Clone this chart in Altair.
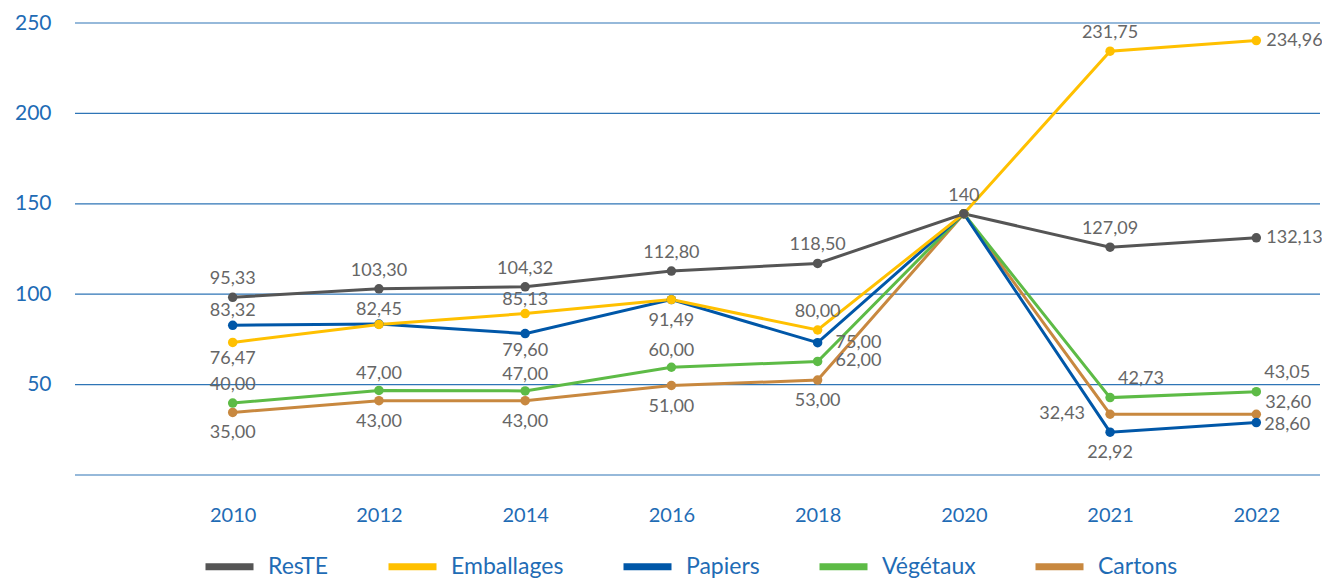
import altair as alt
import pandas as pd

# ---- data -------------------------------------------------------------
years = ["2010", "2012", "2014", "2016", "2018", "2020", "2021", "2022"]
series = ["ResTE", "Emballages", "Papiers", "Végétaux", "Cartons"]
colors = ["#555555", "#FFC000", "#0057A8", "#5DBB46", "#C8883F"]
y_ticks = [0, 50, 100, 150, 200, 250]

reste = [98.3, 103.0, 104.1, 112.8, 117.0, 144.5, 126.0, 131.2]
emballages = [73.3, 83.3, 89.3, 97.0, 80.2, 144.5, 234.4, 240.3]
papiers = [82.8, 83.5, 78.2, 97.0, 73.2, 144.5, 23.7, 29.0]
vegetaux = [39.8, 46.8, 46.5, 59.6, 62.8, 144.5, 42.8, 46.1]
cartons = [34.6, 41.1, 41.1, 49.5, 52.5, 144.5, 33.6, 33.6]

reste_lbl = ["95,33", "103,30", "104,32", "112,80", "118,50", "140", "127,09", "132,13"]
emballages_lbl = ["76,47", "82,45", "85,13", "", "80,00", "", "231,75", "234,96"]
papiers_lbl = ["83,32", "", "79,60", "91,49", "75,00", "", "22,92", "28,60"]
vegetaux_lbl = ["40,00", "47,00", "47,00", "60,00", "62,00", "", "42,73", "43,05"]
cartons_lbl = ["35,00", "43,00", "43,00", "51,00", "53,00", "", "32,43", "32,60"]

# label placement (style): a=above, b=below, r=right, l=left, ar=above-right
reste_pos = ["a", "a", "a", "a", "a", "a", "a", "r"]
emballages_pos = ["b2", "a2", "a2", "a", "a", "a", "a", "r"]
papiers_pos = ["a2", "a", "b2", "b", "r3", "a", "b", "r2"]
vegetaux_pos = ["a", "a3", "a3", "a3", "r3", "a", "ar", "ar"]
cartons_pos = ["b", "b", "b", "b", "b", "a", "l", "ar2"]

values = {"ResTE": reste, "Emballages": emballages, "Papiers": papiers,
          "Végétaux": vegetaux, "Cartons": cartons}
labels = {"ResTE": reste_lbl, "Emballages": emballages_lbl, "Papiers": papiers_lbl,
          "Végétaux": vegetaux_lbl, "Cartons": cartons_lbl}
positions = {"ResTE": reste_pos, "Emballages": emballages_pos, "Papiers": papiers_pos,
             "Végétaux": vegetaux_pos, "Cartons": cartons_pos}

draw_order = ["Cartons", "Végétaux", "Papiers", "Emballages", "ResTE"]
rows = []
for s in draw_order:
    for i, yr in enumerate(years):
        rows.append({"series": s, "year": yr, "value": values[s][i],
                     "label": labels[s][i], "pos": positions[s][i]})
df = pd.DataFrame(rows)
grid_df = pd.DataFrame({"value": y_ticks})

# ---- style ------------------------------------------------------------
FONT = "Lato"
BLUE_TXT = "#1F6CB5"
GRID = "#2E75B6"
LBL = "#666666"
W, H = 1245, 452

placements = {
    "a": dict(dx=0, dy=-18, align="center"),
    "a2": dict(dx=0, dy=-14, align="center"),
    "a3": dict(dx=0, dy=-16, align="center"),
    "b": dict(dx=0, dy=21, align="center"),
    "b2": dict(dx=0, dy=17, align="center"),
    "r": dict(dx=10, dy=0, align="left"),
    "r2": dict(dx=8, dy=2, align="left"),
    "r3": dict(dx=18, dy=0, align="left"),
    "l": dict(dx=-25, dy=0, align="right"),
    "ar": dict(dx=8, dy=-19, align="left"),
    "ar2": dict(dx=9, dy=-11, align="left"),
}

y_scale = alt.Scale(domain=[0, 250], nice=False, zero=True)
y_axis = alt.Axis(title=None, values=y_ticks,
                  labelExpr="datum.value == 0 ? '' : datum.label",
                  domain=False, ticks=False, tickSize=0, grid=False,
                  labelFont=FONT, labelFontSize=21, labelColor=BLUE_TXT,
                  labelPadding=24)
x_enc = alt.X("year:N", sort=years,
              scale=alt.Scale(type="point", range=[157.7, 1181.3], padding=0),
              axis=alt.Axis(title=None, labelAngle=0, domain=False, ticks=False,
                            tickSize=0, grid=False, labelFont=FONT, labelFontSize=20,
                            labelColor=BLUE_TXT, labelPadding=30))
y_enc = alt.Y("value:Q", scale=y_scale, axis=y_axis)
color_scale = alt.Scale(domain=series, range=colors)

grid = alt.Chart(grid_df).mark_rule(color=GRID, strokeWidth=1.2).encode(
    y=alt.Y("value:Q", scale=y_scale, axis=y_axis),
    x=alt.value(0), x2=alt.value(W),
)

base = alt.Chart(df).encode(x=x_enc, y=y_enc)

lines = base.mark_line(strokeWidth=3).encode(
    color=alt.Color("series:N", scale=color_scale, sort=series,
                    legend=alt.Legend(title=None, orient="none", direction="horizontal",
                                      legendX=127, legendY=516,
                                      symbolType="stroke", symbolSize=2304,
                                      symbolStrokeWidth=7, labelFont=FONT,
                                      labelFontSize=23, labelColor=BLUE_TXT,
                                      labelOffset=11, columnPadding=45,
                                      labelLimit=300))
)
points = base.mark_circle(size=90, opacity=1).encode(
    color=alt.Color("series:N", scale=color_scale, legend=None)
)

texts = []
for key, p in placements.items():
    texts.append(
        base.mark_text(font=FONT, fontSize=18, color=LBL, baseline="middle", **p)
        .encode(text="label:N")
        .transform_filter(f"datum.pos == '{key}' && datum.label != ''")
    )

chart = alt.layer(grid, lines, points, *texts).properties(
    width=W, height=H,
    autosize=alt.AutoSizeParams(type="none"),
    padding={"left": 67, "top": 15, "right": 2, "bottom": 103},
).configure_view(stroke=None)

chart.save("out.html", embed_options={"renderer": "svg", "actions": False})
